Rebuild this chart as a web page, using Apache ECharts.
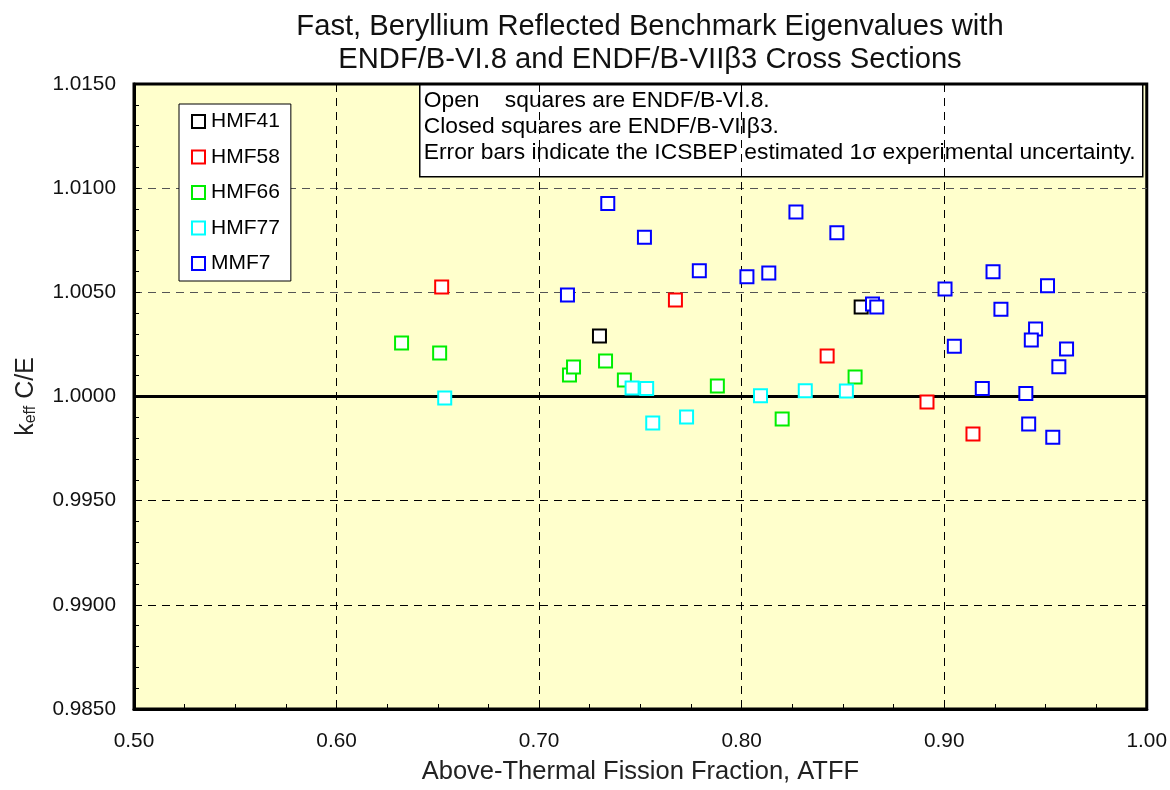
<!DOCTYPE html>
<html><head><meta charset="utf-8">
<script src="https://cdn.jsdelivr.net/npm/echarts@6/dist/echarts.min.js"></script>
<style>html,body{margin:0;padding:0;background:#fff}#c{width:1170px;height:790px}</style>
</head><body><div id="c"></div>
<script>
const seriesNames = ['HMF41','HMF58','HMF66','HMF77','MMF7'];
const seriesColors = ['#000000','#FF0000','#00EE00','#00FFFF','#0000FF'];
const hmf41 = [[0.7298,1.00290],[0.8590,1.00430]];
const hmf58 = [[0.6519,1.00526],[0.7673,1.00463],[0.8422,1.00194],[0.8915,0.99974],[0.9142,0.99820]];
const hmf66 = [[0.6321,1.00257],[0.6509,1.00209],[0.7150,1.00103],[0.7170,1.00142],[0.7328,1.00170],[0.7421,1.00079],[0.7880,1.00050],[0.8200,0.99892],[0.8560,1.00094]];
const hmf77 = [[0.6534,0.99993],[0.7459,1.00041],[0.7531,1.00038],[0.7561,0.99873],[0.7728,0.99902],[0.8093,1.00004],[0.8314,1.00028],[0.8517,1.00026]];
const mmf7 = [[0.7140,1.00487],[0.7339,1.00927],[0.7520,1.00764],[0.7791,1.00604],[0.8026,1.00575],[0.8134,1.00593],[0.8268,1.00886],[0.8470,1.00786],[0.8646,1.00444],[0.8667,1.00430],[0.9241,1.00599],[0.9004,1.00516],[0.9510,1.00532],[0.9280,1.00419],[0.9451,1.00324],[0.9430,1.00271],[0.9604,1.00228],[0.9050,1.00241],[0.9566,1.00143],[0.9188,1.00039],[0.9403,1.00015],[0.9417,0.99868],[0.9536,0.99804]];
const allData = [hmf41, hmf58, hmf66, hmf77, mmf7];
const titleLines = ['Fast, Beryllium Reflected Benchmark Eigenvalues with','ENDF/B-VI.8 and ENDF/B-VIIβ3 Cross Sections'];
const noteLines = ['Open    squares are ENDF/B-VI.8.','Closed squares are ENDF/B-VIIβ3.','Error bars indicate the ICSBEP estimated 1σ experimental uncertainty.'];
const xName = 'Above-Thermal Fission Fraction, ATFF';

const FONT = '"Liberation Sans", Arial, sans-serif';
const chart = echarts.init(document.getElementById('c'), null, {renderer:'canvas'});

const series = seriesNames.map((n,i)=>({
  name:n, type:'scatter', data:allData[i], symbol:'rect', symbolSize:13,
  itemStyle:{color:'#ffffff', borderColor:seriesColors[i], borderWidth:2, opacity:1},
  z:5
}));
series.push({
  type:'line', data:[], silent:true,
  markLine:{silent:true, symbol:['none','none'], label:{show:false},
    lineStyle:{color:'#000', width:3, type:'solid'},
    data:[{yAxis:1.0}]},
  z:3
});

chart.setOption({
  animation:false,
  textStyle:{fontFamily:FONT},
  title:{text:titleLines.join('\n'), left:645, textAlign:'center', top:5,
    textStyle:{fontFamily:FONT, fontSize:29.2, fontWeight:'normal', color:'#111', lineHeight:33}},
  grid:{left:134, right:22, top:84, bottom:81, show:true, backgroundColor:'#FFFFCC',
    borderColor:'#000', borderWidth:3},
  legend:{orient:'vertical', left:179, top:104, data:seriesNames,
    backgroundColor:'#fff', borderColor:'#000', borderWidth:1,
    padding:[7,11,7,12], itemWidth:13, itemHeight:13, itemGap:14.5,
    textStyle:{fontFamily:FONT, fontSize:21, color:'#000', lineHeight:20, padding:[0,0,0,1]}},
  xAxis:{type:'value', min:0.5, max:1.0, interval:0.1,
    name:xName, nameLocation:'middle', nameGap:50,
    nameTextStyle:{fontFamily:FONT, fontSize:25.5, color:'#222'},
    axisLine:{show:true, onZero:false, lineStyle:{color:'#000', width:3}},
    axisTick:{show:true, inside:true, length:6, lineStyle:{color:'#000'}},
    minorTick:{show:true, splitNumber:4, length:5, lineStyle:{color:'#000'}},
    axisLabel:{fontFamily:FONT, fontSize:20.8, color:'#111', margin:22, formatter:v=>v.toFixed(2)},
    splitLine:{show:true, lineStyle:{color:'#000', type:[8,6], width:1}}
  },
  yAxis:{type:'value', min:0.985, max:1.015, interval:0.005,
    name:'{k|k}{s|eff}{k| C/E}', nameLocation:'middle', nameGap:95, nameRotate:90,
    nameTextStyle:{fontFamily:FONT, color:'#222', rich:{k:{fontSize:25, fontFamily:FONT, color:'#222'}, s:{fontSize:16, fontFamily:FONT, color:'#222', verticalAlign:'bottom', padding:[10,0,0,0]}}},
    axisLine:{show:true, onZero:false, lineStyle:{color:'#000', width:3}},
    axisTick:{show:true, inside:true, length:6, lineStyle:{color:'#000'}},
    minorTick:{show:true, splitNumber:5, length:5, lineStyle:{color:'#000'}},
    axisLabel:{fontFamily:FONT, fontSize:20.8, color:'#111', margin:18, formatter:v=>v.toFixed(4)},
    splitLine:{show:true, lineStyle:{color:['#000','#000','#000','#000','#555','#555','#000'], type:[8,6], width:1}}
  },
  graphic:[{
    type:'group', left:419, top:84, z:10,
    children:[
      {type:'rect', shape:{x:0,y:0,width:723,height:92}, style:{fill:'#fff', stroke:'#000', lineWidth:1.5}},
      {type:'text', x:4, y:3, style:{text:noteLines.join('\n'), font:'22.8px '+FONT, fill:'#000', lineHeight:26}}
    ]
  }],
  series:series
});
</script></body></html>
